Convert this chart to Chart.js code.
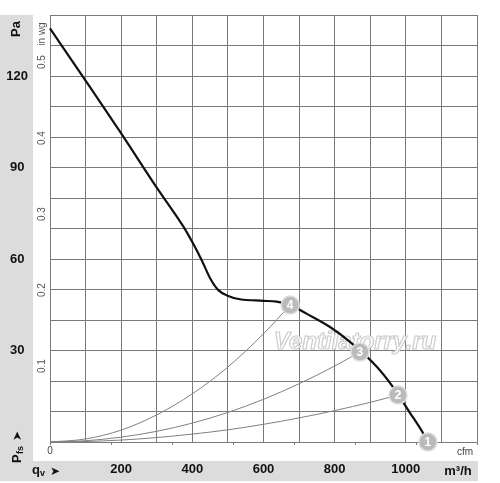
<!DOCTYPE html>
<html lang="en">
<head>
    <meta charset="UTF-8">
    <title>Fan curve</title>
    <script src="https://cdn.jsdelivr.net/npm/chart.js"></script>
    <style>
        body { margin: 0; background: #fff; }
        .wrap { position: relative; width: 500px; height: 483px; }
    </style>
</head>
<body>
    <div class="wrap">
        <canvas id="fanChart"></canvas>
    </div>

    <script>
        // main fan curve, m3/h vs Pa
        const flowMain = [0, 100, 200, 300, 375, 401, 426, 450, 473, 501, 534, 600, 637, 675, 722, 787, 843, 919, 964, 1012, 1048, 1062];
        const pressMain = [135.6, 118.5, 101.2, 83.4, 70.6, 65.3, 59.7, 53.7, 49.8, 47.9, 46.8, 46.3, 46.0, 44.9, 42.0, 37.7, 32.8, 24.6, 18.0, 9.5, 3.0, 0];

        // system curves through the operating points
        const flowSys4 = [0, 100, 200, 300, 400, 500, 600, 675];
        const pressSys4 = [0, 1.0, 3.9, 8.9, 15.8, 24.6, 35.5, 44.9];
        const flowSys3 = [0, 100, 200, 300, 400, 500, 600, 700, 800, 871];
        const pressSys3 = [0, 0.4, 1.6, 3.5, 6.2, 9.7, 14.0, 19.1, 24.9, 29.5];
        const flowSys2 = [0, 100, 200, 300, 400, 500, 600, 700, 800, 900, 978];
        const pressSys2 = [0, 0.16, 0.64, 1.45, 2.6, 4.0, 5.8, 7.9, 10.3, 13.0, 15.4];

        // operating points 1..4
        const opFlow = [1062, 978, 871, 675];
        const opPress = [0, 15.4, 29.5, 44.9];
        const opLabels = ['1', '2', '3', '4'];

        // tick labels
        const paTicks = [30, 60, 90, 120];
        const wgTicks = [0.1, 0.2, 0.3, 0.4, 0.5];
        const m3hTicks = [200, 400, 600, 800, 1000];
        const cfmTicks = [0, 100, 200, 300, 400, 500, 600];

        const PA_MAX = 140;
        const M3H_MAX = 1200;
        const PA_PER_INWG = 249.089;
        const M3H_PER_CFM = 1.699;

        const pts = (xs, ys) => xs.map((x, i) => ({ x: x, y: ys[i] }));

        const gridColor = '#7a7a7a';
        const FONT = 'Arial, "Liberation Sans", sans-serif';

        // gray panels, unit labels, watermark, circle numbers
        const decor = {
            id: 'decor',
            beforeDraw(chart) {
                const c = chart.ctx;
                c.save();
                c.fillStyle = '#dcdcdc';
                c.fillRect(0, 15, 33, 466);
                c.fillRect(0, 461, 478, 20);
                c.restore();
            },
            beforeDatasetsDraw(chart) {
                const c = chart.ctx;
                c.save();
                c.font = 'italic bold 24px ' + FONT;
                c.textAlign = 'center';
                c.textBaseline = 'alphabetic';
                c.lineWidth = 1.2;
                c.strokeStyle = '#cdcdcd';
                c.fillStyle = 'rgba(255,255,255,0.9)';
                c.fillText('Ventilatorry.ru', 355, 349);
                c.strokeText('Ventilatorry.ru', 355, 349);
                c.restore();
            },
            afterDatasetsDraw(chart) {
                const c = chart.ctx;
                c.save();
                // circle numbers
                const meta = chart.getDatasetMeta(4);
                c.font = 'bold 12px ' + FONT;
                c.fillStyle = '#fff';
                c.textAlign = 'center';
                c.textBaseline = 'middle';
                meta.data.forEach((p, i) => c.fillText(opLabels[i], p.x, p.y + 0.5));

                // in wg tick labels, placed by the yWg scale
                const wg = chart.scales.yWg;
                c.fillStyle = '#555';
                c.font = '10px ' + FONT;
                wgTicks.forEach(v => {
                    c.save();
                    c.translate(42, wg.getPixelForValue(v));
                    c.rotate(-Math.PI / 2);
                    c.fillText(v.toFixed(1), 0, 0);
                    c.restore();
                });
                c.save();
                c.translate(42, 34);
                c.rotate(-Math.PI / 2);
                c.fillText('in wg', 0, 0);
                c.restore();

                // Pa title
                c.fillStyle = '#111';
                c.font = 'bold 13px ' + FONT;
                c.save();
                c.translate(16, 29);
                c.rotate(-Math.PI / 2);
                c.fillText('Pa', 0, 0);
                c.restore();

                // Pfs arrow
                c.save();
                c.translate(16, 463);
                c.rotate(-Math.PI / 2);
                c.textAlign = 'left';
                c.textBaseline = 'alphabetic';
                c.font = 'bold 13px ' + FONT;
                c.fillText('P', 0, 5);
                c.font = 'bold 9px ' + FONT;
                c.fillText('fs', 9, 7);
                c.font = 'bold 12px "DejaVu Sans", sans-serif';
                c.fillText('\u27A4', 22, 5);
                c.restore();

                // qv arrow
                c.textAlign = 'left';
                c.textBaseline = 'alphabetic';
                c.font = 'bold 13px ' + FONT;
                c.fillText('q', 32, 474);
                c.font = 'bold 9px ' + FONT;
                c.fillText('v', 40, 476);
                c.font = 'bold 12px "DejaVu Sans", sans-serif';
                c.fillText('\u27A4', 50, 475);

                // units
                c.textAlign = 'center';
                c.font = 'bold 13px ' + FONT;
                c.fillText('m\u00B3/h', 458, 475);
                c.fillStyle = '#444';
                c.font = '10px ' + FONT;
                c.fillText('cfm', 465, 455);
                c.restore();
            }
        };

        new Chart(document.getElementById('fanChart'), {
            type: 'line',
            data: {
                datasets: [
                    {
                        data: pts(flowMain, pressMain),
                        borderColor: '#111', borderWidth: 2.2,
                        pointRadius: 0, cubicInterpolationMode: 'monotone',
                        xAxisID: 'x', yAxisID: 'y', order: 1
                    },
                    {
                        data: pts(flowSys4, pressSys4),
                        borderColor: '#808080', borderWidth: 1,
                        pointRadius: 0, cubicInterpolationMode: 'monotone',
                        xAxisID: 'x', yAxisID: 'y', order: 2
                    },
                    {
                        data: pts(flowSys3, pressSys3),
                        borderColor: '#808080', borderWidth: 1,
                        pointRadius: 0, cubicInterpolationMode: 'monotone',
                        xAxisID: 'x', yAxisID: 'y', order: 2
                    },
                    {
                        data: pts(flowSys2, pressSys2),
                        borderColor: '#808080', borderWidth: 1,
                        pointRadius: 0, cubicInterpolationMode: 'monotone',
                        xAxisID: 'x', yAxisID: 'y', order: 2
                    },
                    {
                        type: 'scatter',
                        data: pts(opFlow, opPress),
                        pointRadius: 9, pointHoverRadius: 9,
                        backgroundColor: '#bababa', borderColor: '#dedede', borderWidth: 1.5,
                        showLine: false, clip: false,
                        xAxisID: 'x', yAxisID: 'y', order: 0
                    }
                ]
            },
            options: {
                responsive: true,
                maintainAspectRatio: false,
                animation: false,
                clip: false,
                layout: { padding: { left: 0, top: 15, right: 23, bottom: 2 } },
                plugins: { legend: { display: false }, tooltip: { enabled: false } },
                scales: {
                    x: {
                        type: 'linear', position: 'bottom', weight: 1,
                        min: 0, max: M3H_MAX,
                        afterFit: s => { s.height = 20; },
                        grid: { color: gridColor, lineWidth: 1, drawTicks: false },
                        border: { display: false },
                        ticks: {
                            stepSize: 100, autoSkip: false, maxRotation: 0, padding: 1,
                            color: '#111',
                            font: { family: FONT, size: 13, weight: 'bold' },
                            callback: v => m3hTicks.includes(v) ? String(v) : ''
                        }
                    },
                    xCfm: {
                        type: 'linear', position: 'bottom', weight: 0,
                        min: 0, max: M3H_MAX / M3H_PER_CFM,
                        afterFit: s => { s.height = 19; },
                        grid: { display: true, drawOnChartArea: false, drawTicks: true, tickLength: 3, color: gridColor },
                        border: { display: false },
                        ticks: {
                            stepSize: 100, autoSkip: false, maxRotation: 0, padding: 0,
                            color: '#444',
                            font: { family: FONT, size: 10 },
                            callback: v => cfmTicks.includes(v) ? String(v) : ''
                        }
                    },
                    y: {
                        type: 'linear', position: 'left', weight: 1,
                        min: 0, max: PA_MAX,
                        afterFit: s => { s.width = 33; },
                        grid: { color: gridColor, lineWidth: 1, drawTicks: false },
                        border: { display: false },
                        ticks: {
                            stepSize: 10, autoSkip: false, padding: 5, crossAlign: 'center',
                            color: '#111',
                            font: { family: FONT, size: 13, weight: 'bold' },
                            callback: v => paTicks.includes(v) ? String(v) : ''
                        }
                    },
                    yWg: {
                        type: 'linear', position: 'left', weight: 0,
                        min: 0, max: PA_MAX / PA_PER_INWG,
                        afterFit: s => { s.width = 17; },
                        grid: { display: false },
                        border: { display: false },
                        ticks: { display: false }
                    }
                }
            },
            plugins: [decor]
        });
    </script>
</body>
</html>
